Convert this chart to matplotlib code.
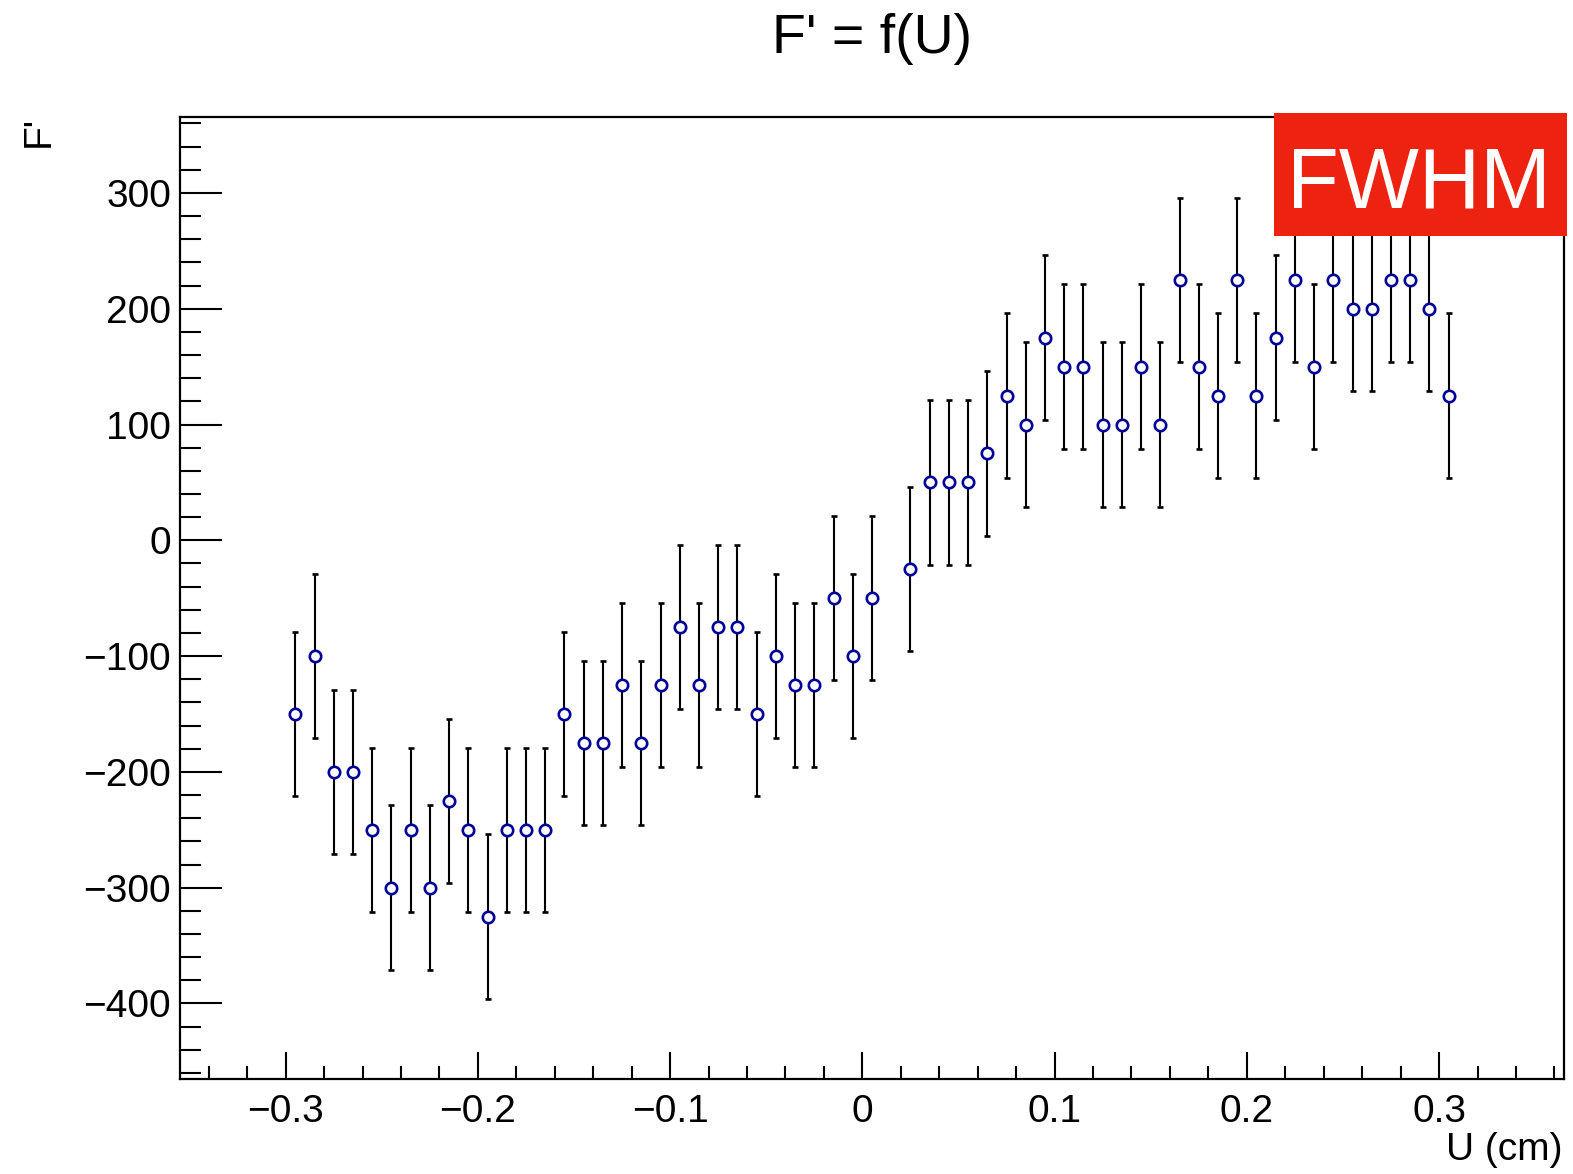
import matplotlib
matplotlib.use("Agg")
import matplotlib.pyplot as plt
from matplotlib.patches import Rectangle
from matplotlib.ticker import MultipleLocator, FixedLocator, FixedFormatter

plt.rcParams['font.family'] = ['Liberation Sans', 'DejaVu Sans']

# ---- data ----
u_cm = [-0.295, -0.285, -0.275, -0.265, -0.255, -0.245, -0.235, -0.225, -0.215, -0.205,
        -0.195, -0.185, -0.175, -0.165, -0.155, -0.145, -0.135, -0.125, -0.115, -0.105,
        -0.095, -0.085, -0.075, -0.065, -0.055, -0.045, -0.035, -0.025, -0.015, -0.005,
        0.005, 0.025, 0.035, 0.045, 0.055, 0.065, 0.075, 0.085, 0.095, 0.105,
        0.115, 0.125, 0.135, 0.145, 0.155, 0.165, 0.175, 0.185, 0.195, 0.205,
        0.215, 0.225, 0.235, 0.245, 0.255, 0.265, 0.275, 0.285, 0.295, 0.305]
f_prime = [-150, -100, -200, -200, -250, -300, -250, -300, -225, -250,
           -325, -250, -250, -250, -150, -175, -175, -125, -175, -125,
           -75, -125, -75, -75, -150, -100, -125, -125, -50, -100,
           -50, -25, 50, 50, 50, 75, 125, 100, 175, 150,
           150, 100, 100, 150, 100, 225, 150, 125, 225, 125,
           175, 225, 150, 225, 200, 200, 225, 225, 200, 125]
F_ERR = 71

x_ticks = [-0.3, -0.2, -0.1, 0.0, 0.1, 0.2, 0.3]
x_tick_labels = ["\u22120.3", "\u22120.2", "\u22120.1", "0", "0.1", "0.2", "0.3"]
y_ticks = [-400, -300, -200, -100, 0, 100, 200, 300]
y_tick_labels = ["\u2212400", "\u2212300", "\u2212200", "\u2212100", "0", "100", "200", "300"]

W, H = 1573, 1174
fig = plt.figure(figsize=(W / 100, H / 100), dpi=100)
ax = fig.add_axes([180 / W, 1 - 1079 / H, 1384 / W, (1079 - 117.4) / H])

ax.errorbar(u_cm, f_prime, yerr=F_ERR, fmt='o', ms=8.2, mfc='white', mec='#000099',
            mew=1.9, ecolor='black', elinewidth=1.5, capsize=2.2, capthick=2.2)

ax.set_xlim(-0.355, 0.365)
ax.set_ylim(-465.2, 365.2)

ax.xaxis.set_major_locator(FixedLocator(x_ticks))
ax.xaxis.set_major_formatter(FixedFormatter(x_tick_labels))
ax.xaxis.set_minor_locator(MultipleLocator(0.02))
ax.yaxis.set_major_locator(FixedLocator(y_ticks))
ax.yaxis.set_major_formatter(FixedFormatter(y_tick_labels))
ax.yaxis.set_minor_locator(MultipleLocator(20))

ax.tick_params(axis='both', which='both', direction='in', width=1.5, colors='black',
               top=False, right=False)
ax.tick_params(axis='x', which='major', length=19.5, pad=11, labelsize=28)
ax.tick_params(axis='x', which='minor', length=9.7)
ax.tick_params(axis='y', which='major', length=30, pad=6.5, labelsize=28)
ax.tick_params(axis='y', which='minor', length=15)
for sp in ax.spines.values():
    sp.set_linewidth(1.6)

# titles
fig.text(872 / W, 1 - 53 / H, "F' = f(U)", ha='center', va='baseline', fontsize=40)
fig.text(1563 / W, 1 - 1160 / H, "U (cm)", ha='right', va='baseline', fontsize=28)
fig.text(57 / W, 1 - 116 / H, "F'", ha='right', va='top', rotation=90, fontsize=28)

# red label box, partly over the frame
fig.patches.append(Rectangle((1274 / W, 1 - 236 / H), 293 / W, 123 / H,
                             transform=fig.transFigure, facecolor='#ee2210',
                             edgecolor='none', zorder=5))
fig.text(1419 / W, 1 - 207 / H, "FWHM", ha='center', va='baseline', fontsize=61,
         color='white', zorder=6)

fig.savefig("out.png", dpi=100)
